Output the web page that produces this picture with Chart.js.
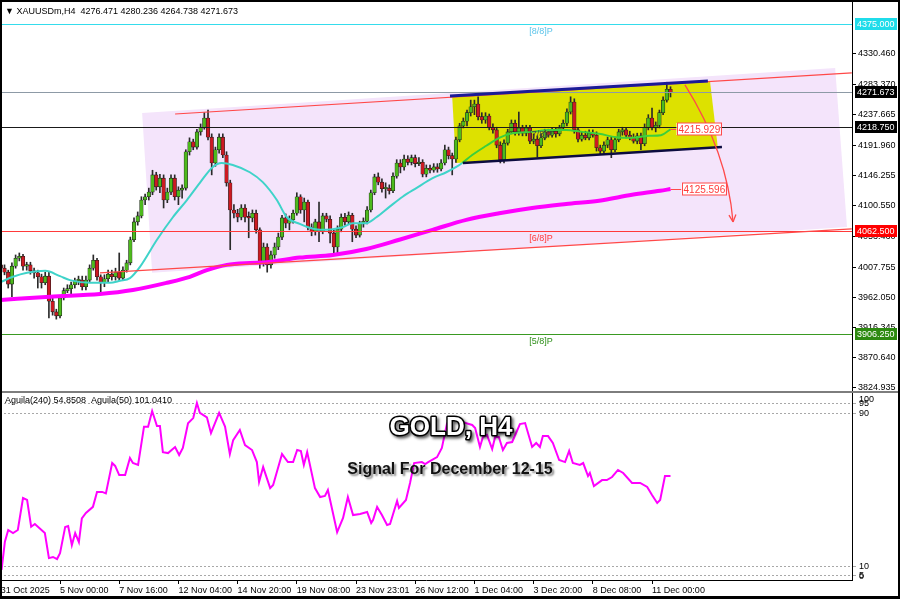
<!DOCTYPE html>
<html>
<head>
<meta charset="utf-8">
<script src="https://cdn.jsdelivr.net/npm/chart.js@4.4.1/dist/chart.umd.min.js"></script>
<style>
  html, body { margin: 0; padding: 0; background: #fff; }
  #wrap { position: relative; width: 900px; height: 599px; overflow: hidden; }
  #priceChart { position: absolute; left: 0; top: 0; }
  #aguilaChart { position: absolute; left: 0; top: 391px; }
  #frame { position: absolute; left: 0; top: 0; width: 900px; height: 599px; box-sizing: border-box;
           border: 2px solid #000; border-bottom-width: 3px; pointer-events: none; }
</style>
</head>
<body>
<div id="wrap">
  <canvas id="priceChart" width="900" height="391"></canvas>
  <canvas id="aguilaChart" width="900" height="208"></canvas>
  <div id="frame"></div>
</div>
<script>
// XAUUSDm H4 candles, bar 0 = 31 Oct 2025 08:00
const opens = [
  4011, 4006, 4000, 3982, 4009, 4021, 4024, 4009, 4011, 4002,
  3999, 3993, 3984, 3994, 3956, 3940, 3934, 3961, 3972, 3975,
  3981, 3987, 3988, 3978, 3988, 4006, 4018, 3993, 3984, 3990,
  3997, 3993, 4000, 3991, 4003, 4014, 4049, 4076, 4085, 4109,
  4114, 4121, 4147, 4129, 4142, 4109, 4121, 4142, 4114, 4124,
  4127, 4182, 4197, 4189, 4212, 4219, 4233, 4204, 4165, 4185,
  4204, 4177, 4135, 4094, 4089, 4083, 4097, 4083, 4082, 4089,
  4064, 4014, 4038, 4011, 4026, 4038, 4053, 4082, 4074, 4079,
  4089, 4114, 4094, 4106, 4068, 4061, 4076, 4062, 4085, 4080,
  4059, 4038, 4065, 4083, 4076, 4086, 4065, 4056, 4073, 4077,
  4094, 4120, 4144, 4136, 4126, 4127, 4123, 4145, 4165, 4159,
  4171, 4166, 4173, 4164, 4166, 4148, 4157, 4154, 4159, 4156,
  4165, 4185, 4176, 4171, 4200, 4221, 4228, 4241, 4250, 4254,
  4235, 4230, 4236, 4219, 4215, 4192, 4170, 4195, 4212, 4225,
  4212, 4218, 4210, 4218, 4198, 4201, 4191, 4203, 4212, 4207,
  4213, 4209, 4218, 4225, 4242, 4257, 4215, 4201, 4207, 4203,
  4210, 4207, 4188, 4183, 4192, 4200, 4185, 4200, 4212, 4215,
  4207, 4203, 4198, 4206, 4194, 4219, 4233, 4218, 4222, 4241,
  4260, 4276.471
];
const highs = [
  4015, 4011, 4003, 4014, 4026, 4029, 4027, 4015, 4015, 4006,
  4003, 3997, 4000, 4000, 3961, 3944, 3964, 3976, 3981, 3985,
  3991, 3994, 3994, 3994, 4011, 4026, 4021, 3996, 3996, 4003,
  4003, 4006, 4029, 4008, 4018, 4053, 4082, 4091, 4114, 4118,
  4127, 4154, 4151, 4148, 4147, 4127, 4147, 4147, 4129, 4132,
  4185, 4203, 4201, 4216, 4224, 4241, 4245, 4209, 4189, 4209,
  4209, 4182, 4139, 4102, 4095, 4102, 4102, 4091, 4094, 4094,
  4067, 4044, 4043, 4032, 4044, 4059, 4086, 4088, 4085, 4094,
  4120, 4117, 4112, 4109, 4073, 4080, 4106, 4089, 4089, 4085,
  4064, 4070, 4088, 4089, 4091, 4089, 4070, 4077, 4082, 4099,
  4124, 4148, 4150, 4141, 4135, 4132, 4150, 4170, 4170, 4177,
  4176, 4177, 4177, 4173, 4170, 4162, 4162, 4164, 4164, 4170,
  4192, 4189, 4180, 4204, 4225, 4233, 4245, 4260, 4260, 4265,
  4241, 4241, 4239, 4224, 4219, 4197, 4200, 4216, 4230, 4230,
  4242, 4222, 4222, 4222, 4209, 4206, 4209, 4216, 4216, 4218,
  4218, 4222, 4230, 4247, 4265, 4262, 4219, 4212, 4213, 4215,
  4215, 4212, 4192, 4197, 4204, 4204, 4204, 4216, 4219, 4219,
  4213, 4209, 4210, 4210, 4224, 4238, 4248, 4227, 4245, 4265,
  4287, 4280.236
];
const lows = [
  4000, 3996, 3976, 3963, 4006, 4017, 4003, 4003, 3997, 3991,
  3976, 3976, 3981, 3931, 3935, 3929, 3931, 3958, 3969, 3963,
  3976, 3981, 3973, 3973, 3985, 4003, 3988, 3969, 3978, 3985,
  3988, 3988, 3987, 3988, 4000, 4011, 4046, 4071, 4082, 4102,
  4109, 4117, 4124, 4120, 4097, 4105, 4117, 4109, 4102, 4112,
  4124, 4177, 4185, 4186, 4207, 4216, 4200, 4147, 4160, 4180,
  4173, 4130, 4034, 4082, 4076, 4079, 4076, 4052, 4076, 4059,
  4006, 4009, 4000, 4006, 4021, 4034, 4049, 4067, 4064, 4074,
  4086, 4089, 4076, 4064, 4055, 4056, 4046, 4058, 4076, 4044,
  4026, 4029, 4061, 4071, 4073, 4046, 4052, 4053, 4068, 4073,
  4091, 4117, 4132, 4121, 4112, 4118, 4120, 4142, 4150, 4154,
  4162, 4162, 4159, 4161, 4144, 4144, 4150, 4151, 4151, 4153,
  4162, 4171, 4147, 4166, 4197, 4218, 4221, 4236, 4238, 4230,
  4225, 4225, 4215, 4210, 4188, 4165, 4165, 4192, 4209, 4207,
  4207, 4206, 4206, 4194, 4194, 4174, 4188, 4200, 4204, 4204,
  4204, 4206, 4215, 4221, 4239, 4210, 4197, 4198, 4200, 4200,
  4204, 4183, 4179, 4180, 4188, 4173, 4182, 4197, 4207, 4203,
  4200, 4195, 4194, 4185, 4191, 4215, 4215, 4212, 4218, 4238,
  4257, 4264.738
];
const closes = [
  4006, 4000, 3982, 4009, 4021, 4024, 4009, 4011, 4002, 3999,
  3993, 3984, 3994, 3956, 3940, 3934, 3961, 3972, 3975, 3981,
  3987, 3988, 3978, 3988, 4006, 4018, 3993, 3984, 3990, 3997,
  3993, 4000, 3991, 4003, 4014, 4049, 4076, 4085, 4109, 4114,
  4121, 4147, 4129, 4142, 4109, 4121, 4142, 4114, 4124, 4127,
  4182, 4197, 4189, 4212, 4219, 4233, 4204, 4165, 4185, 4204,
  4177, 4135, 4094, 4089, 4083, 4097, 4083, 4082, 4089, 4064,
  4014, 4038, 4011, 4026, 4038, 4053, 4082, 4074, 4079, 4089,
  4114, 4094, 4106, 4068, 4061, 4076, 4062, 4085, 4080, 4059,
  4038, 4065, 4083, 4076, 4086, 4065, 4056, 4073, 4077, 4094,
  4120, 4144, 4136, 4126, 4127, 4123, 4145, 4165, 4159, 4171,
  4166, 4173, 4164, 4166, 4148, 4157, 4154, 4159, 4156, 4165,
  4185, 4176, 4171, 4200, 4221, 4228, 4241, 4250, 4254, 4235,
  4230, 4236, 4219, 4215, 4192, 4170, 4195, 4212, 4225, 4212,
  4218, 4210, 4218, 4198, 4201, 4191, 4203, 4212, 4207, 4213,
  4209, 4218, 4225, 4242, 4257, 4215, 4201, 4207, 4203, 4210,
  4207, 4188, 4183, 4192, 4200, 4185, 4200, 4212, 4215, 4207,
  4203, 4198, 4206, 4194, 4219, 4233, 4218, 4222, 4241, 4260,
  4276.471, 4271.673
];

// moving averages: [bar, price]
const maFastPoints = [
  [0, 3985], [3.3, 3993], [7.1, 3999], [12, 4002], [16, 3994], [18.7, 3988], [24.1, 3984],
  [29.5, 3984], [32.2, 3987], [34.9, 3991], [37.6, 4008], [42.2, 4049], [46.5, 4083],
  [50.3, 4109], [53.8, 4135], [57.3, 4159], [59.7, 4165], [62.7, 4162], [67.3, 4151],
  [70.8, 4136], [74.6, 4109], [77.3, 4083], [80.8, 4073], [83.5, 4067], [86.2, 4064],
  [89.7, 4065], [92.4, 4068], [95.1, 4074], [98.8, 4074], [101.5, 4083], [105.1, 4099],
  [108.6, 4114], [112.3, 4127], [116.7, 4142], [120.4, 4151], [123.1, 4159], [124.7, 4165],
  [127.4, 4177], [131.2, 4191], [134.7, 4203], [138.2, 4210], [143.6, 4212], [148.2, 4215],
  [152.8, 4215], [157.1, 4212], [161.7, 4209], [166.3, 4204], [170.6, 4203], [175.2, 4206],
  [178.4, 4207], [181, 4215.929]
];
const maSlowPoints = [
  [0, 3958], [13.3, 3963], [26.8, 3967], [35.7, 3973], [44.9, 3984], [51.1, 3993],
  [55.7, 4003], [61.1, 4011], [67.3, 4014], [71.9, 4015], [80.8, 4022], [89.7, 4026],
  [98.8, 4035], [107.7, 4049], [116.7, 4064], [125.8, 4079], [134.7, 4089], [143.6, 4097],
  [152.8, 4103], [161.7, 4108], [170.6, 4117], [178.2, 4123], [181, 4125.596]
];

// Aguila(240) oscillator: [bar, value]
const aguilaPoints = [
  [0.2, 8], [1.1, 22.8], [2.0, 28.9], [3.3, 27.3], [4.6, 28.9], [6.0, 45.6], [7.1, 44.6],
  [8.2, 30.6], [9.2, 32], [11.9, 27.3], [13.0, 14.2], [14.1, 14.8], [15.2, 13.7], [16.0, 16.8],
  [17.4, 30.5], [18.2, 31], [19.2, 21], [20.1, 27.3], [21.1, 22.6], [21.9, 35], [23.0, 37.8],
  [24.9, 41], [26.0, 48.8], [27.4, 48.8], [28.4, 48], [30.1, 63.9], [30.9, 62.4], [32.0, 57.6],
  [33.6, 57.6], [34.9, 66.5], [35.7, 63.9], [37.1, 62.9], [38.7, 82.9], [39.8, 82.9], [40.9, 91.1],
  [42.2, 83.3], [43.0, 83.3], [43.8, 69.6], [45.2, 69.1], [47.1, 72.3], [48.2, 68.1], [49.2, 71.8],
  [50.6, 84.7], [52.0, 87.4], [53.0, 95.3], [53.8, 90.1], [55.7, 87.8], [56.8, 79.6], [59.0, 90.1],
  [60.6, 83], [61.9, 68.6], [62.8, 75.9], [64.6, 81.2], [66.0, 73.3], [67.9, 70.7], [69.2, 64.4],
  [69.8, 54], [70.9, 61.8], [72.8, 50.8], [73.6, 52.4], [76.0, 68.6], [77.6, 64.4], [79.0, 64.4],
  [80.1, 70.7], [81.1, 70.2], [81.9, 62.9], [82.8, 69.6], [84.9, 50.8], [86.3, 46.1], [87.6, 46.7],
  [88.4, 49.8], [90.9, 27.8], [92.5, 35.2], [93.8, 46.1], [95.2, 36.7], [97.1, 37.3], [99.0, 38.3],
  [100.1, 32.6], [100.6, 34.1], [101.7, 40.9], [103.0, 36.7], [104.4, 31.5], [105.2, 32],
  [107.1, 44.1], [107.6, 40.4], [109.5, 44.6], [110.6, 53.5], [111.7, 63.9], [113.8, 64.4],
  [114.7, 63.4], [115.5, 64.4], [117.9, 67], [119.2, 71.8], [120.6, 84.7], [122.8, 87.5],
  [124.6, 85.4], [127.4, 83.8], [128.2, 82.2], [129.5, 72.3], [130.3, 77.5], [131.4, 78.6],
  [132.8, 71.2], [133.6, 77.5], [134.6, 77.5], [135.7, 70.7], [136.8, 74.4], [138.2, 74.9],
  [140.3, 84.3], [141.7, 84.8], [143.6, 72.3], [144.7, 74.4], [145.7, 72.3], [146.5, 78],
  [147.9, 78], [149.2, 74.4], [150.9, 65.5], [152.5, 64.4], [153.6, 70.2], [154.6, 63.9],
  [156.5, 62.9], [157.4, 63.9], [158.7, 57.1], [159.2, 58.7], [160.3, 51.9], [162.5, 55],
  [163.8, 55], [165.2, 56.6], [166.8, 60.3], [168.2, 58.7], [170.6, 53.5], [172.8, 53.5],
  [174.7, 51.4], [176.0, 47.2], [177.4, 43], [178.2, 44.6], [179.5, 57.1], [181, 57.1]
];

const timeTickBars = [0, 16, 32, 48, 64, 80, 96, 112, 128, 144, 160, 176];
const timeTickLabels = ['31 Oct 2025', '5 Nov 00:00', '7 Nov 16:00', '12 Nov 04:00', '14 Nov 20:00',
  '19 Nov 08:00', '23 Nov 23:01', '26 Nov 12:00', '1 Dec 04:00', '3 Dec 20:00', '8 Dec 08:00', '11 Dec 00:00'];
const priceTicks = [4330.460, 4283.370, 4237.665, 4191.960, 4146.255, 4100.550, 4053.460,
  4007.755, 3962.050, 3916.345, 3870.640, 3824.935];
const aguilaTicks = [100, 95, 90, 10, 5];

// horizontal levels (Murrey [n/8]P lines, bid, ...)
const levelPrices = [4375.000, 4271.673, 4218.750, 4062.500, 3906.250];
const levelNames = ['[8/8]P', '', '[7/8]P', '[6/8]P', '[5/8]P'];

// hand drawn objects, in [bar, price]
const lavenderBox = [[38.2, 4240.5], [225.5, 4308.6], [228.7, 4068.3], [40.9, 3999.0]];
const yellowBox = [[122.0, 4264.7], [191.7, 4287.4], [193.8, 4187.7], [123.0, 4165.0]];
const channelTop = [[47.1, 4239.0], [230, 4301.2]];
const channelBottom = [[26.8, 3999.0], [230, 4065.3]];
const boxTopLine = [[121.4, 4266.2], [191.1, 4288.9]];
const boxBottomLine = [[124.9, 4165.0], [194.9, 4189.2]];
const arrowPath = [[184.9, 4282.9], [196.3, 4181.6], [197.9, 4075.9]];

const levelColors = ['#35dcec', '#8d9aa6', '#1a1a1a', '#ff3a3a', '#3a9a22'];
const levelTextColors = ['#5cc4ea', '#000', '#444', '#ff3a3a', '#2f8f1a'];
const levelBoxColors = ['#1fdcea', '#000', '#000', '#ff0000', '#2d8a10'];

const FONT = "'Liberation Sans', Arial, sans-serif";
Chart.defaults.font.family = FONT;
Chart.defaults.font.size = 9;
Chart.defaults.color = '#000';

const X_MIN = -0.22, X_MAX = 230.05;

function toPx(chart, pt) {
  return [chart.scales.x.getPixelForValue(pt[0]), chart.scales.y.getPixelForValue(pt[1])];
}
function tracePath(chart, pts) {
  const c = chart.ctx;
  c.beginPath();
  pts.forEach((p, k) => {
    const [x, y] = toPx(chart, p);
    if (k) c.lineTo(x, y); else c.moveTo(x, y);
  });
}

const priceOverlay = {
  id: 'priceOverlay',
  beforeDatasetsDraw(chart) {
    const c = chart.ctx, a = chart.chartArea;
    c.save();
    c.beginPath(); c.rect(a.left, a.top, a.width, a.height); c.clip();
    tracePath(chart, lavenderBox); c.closePath();
    c.fillStyle = '#f4e4fb'; c.fill();
    tracePath(chart, yellowBox); c.closePath();
    c.fillStyle = '#dde100'; c.fill();
    c.restore();
  },
  afterDatasetsDraw(chart) {
    const c = chart.ctx, a = chart.chartArea, ys = chart.scales.y, xs = chart.scales.x;
    c.save();
    c.beginPath(); c.rect(a.left, a.top, a.width, a.height); c.clip();

    // horizontal levels
    levelPrices.forEach((p, i) => {
      const y = Math.round(ys.getPixelForValue(p)) + 0.5;
      c.strokeStyle = levelColors[i]; c.lineWidth = 1;
      c.beginPath(); c.moveTo(a.left, y); c.lineTo(a.right, y); c.stroke();
      if (levelNames[i]) {
        c.font = '9px ' + FONT; c.fillStyle = levelTextColors[i];
        c.textAlign = 'center'; c.textBaseline = 'middle';
        c.fillText(levelNames[i], xs.getPixelForValue(146), y + 7);
      }
    });

    // red channel
    c.strokeStyle = '#ff4848'; c.lineWidth = 1.2;
    tracePath(chart, channelTop); c.stroke();
    tracePath(chart, channelBottom); c.stroke();

    // consolidation box edges
    c.strokeStyle = '#1b1b96'; c.lineWidth = 3;
    tracePath(chart, boxTopLine); c.stroke();
    c.strokeStyle = '#0c0c40'; c.lineWidth = 2.5;
    tracePath(chart, boxBottomLine); c.stroke();

    // red projection arrow
    const [sx, sy] = toPx(chart, arrowPath[0]);
    const [cx, cy] = toPx(chart, arrowPath[1]);
    const [ex, ey] = toPx(chart, arrowPath[2]);
    c.strokeStyle = '#ff4a4a'; c.lineWidth = 1.3;
    c.beginPath(); c.moveTo(sx, sy); c.quadraticCurveTo(cx, cy, ex, ey); c.stroke();
    const ang = Math.atan2(ey - cy, ex - cx);
    c.beginPath();
    [-1, 1].forEach(s => {
      c.moveTo(ex, ey);
      c.lineTo(ex - 8 * Math.cos(ang + s * 0.45), ey - 8 * Math.sin(ang + s * 0.45));
    });
    c.stroke();
    c.restore();

    // MA value labels
    c.save();
    [[maFastPoints, 6], [maSlowPoints, 11]].forEach(([pts, gap]) => {
      const last = pts[pts.length - 1];
      const [x, y0] = toPx(chart, last);
      const y = Math.round(y0) + 0.5;
      c.strokeStyle = '#ff4a4a'; c.lineWidth = 1;
      c.beginPath(); c.moveTo(x, y); c.lineTo(x + gap, y); c.stroke();
      c.fillStyle = '#fff';
      c.fillRect(x + gap, y - 6.5, 44, 12);
      c.strokeRect(Math.round(x + gap) + 0.5, y - 6.5, 44, 12);
      c.font = '10px ' + FONT; c.fillStyle = '#ff3a3a';
      c.textAlign = 'left'; c.textBaseline = 'middle';
      c.fillText(last[1].toFixed(3), x + gap + 2, y + 0.5);
    });
    c.restore();
  },
  afterDraw(chart) {
    const c = chart.ctx, a = chart.chartArea, ys = chart.scales.y;
    c.save();
    levelPrices.forEach((p, i) => {
      const y = Math.round(ys.getPixelForValue(p));
      c.fillStyle = levelBoxColors[i];
      c.fillRect(a.right + 3, y - 6, 42, 12);
      c.fillStyle = '#fff'; c.font = '9px ' + FONT;
      c.textAlign = 'left'; c.textBaseline = 'middle';
      c.fillText(p.toFixed(3), a.right + 5, y + 0.5);
    });
    c.fillStyle = '#000'; c.font = '9px ' + FONT;
    c.textAlign = 'left'; c.textBaseline = 'middle';
    c.fillText('\u25BC XAUUSDm,H4  4276.471 4280.236 4264.738 4271.673', 5, 12);
    c.restore();
  }
};

const bodyData = closes.map((c, i) => ({ x: i, y: [opens[i], c] }));
const wickData = closes.map((c, i) => ({ x: i, y: [lows[i], highs[i]] }));
const bodyColors = closes.map((c, i) => c >= opens[i] ? '#4dba1c' : '#cc1a22');

new Chart(document.getElementById('priceChart'), {
  type: 'bar',
  data: {
    datasets: [
      { label: 'wicks', data: wickData, backgroundColor: '#2a2a2a', barThickness: 1,
        grouped: false, borderWidth: 0, order: 3 },
      { label: 'bodies', data: bodyData, backgroundColor: bodyColors, barThickness: 3.6,
        grouped: false, borderWidth: 0.6, borderColor: '#1e1e1e', borderSkipped: false,
        minBarLength: 1.5, order: 2 },
      { type: 'line', label: 'MA slow', data: maSlowPoints.map(p => ({ x: p[0], y: p[1] })),
        borderColor: '#ff00ff', borderWidth: 4, pointRadius: 0, cubicInterpolationMode: 'monotone', order: 1 },
      { type: 'line', label: 'MA fast', data: maFastPoints.map(p => ({ x: p[0], y: p[1] })),
        borderColor: '#3fd3c9', borderWidth: 2, pointRadius: 0, cubicInterpolationMode: 'monotone', order: 0,
        segment: { borderColor: ctx => ctx.p0.parsed.x >= 124 ? '#3ccf3c' : undefined } }
    ]
  },
  options: {
    responsive: false,
    animation: false,
    devicePixelRatio: 1,
    events: [],
    layout: { padding: 0 },
    plugins: { legend: { display: false }, tooltip: { enabled: false } },
    scales: {
      x: { type: 'linear', min: X_MIN, max: X_MAX, offset: false, display: false },
      y: {
        position: 'right', min: 3820.4, max: 4411.3,
        afterBuildTicks: s => { s.ticks = priceTicks.map(v => ({ value: v })); },
        afterFit: s => { s.width = 48; s.paddingTop = 0; s.paddingBottom = 0; },
        ticks: { autoSkip: false, padding: 2, font: { size: 9 }, color: '#000', callback: v => v.toFixed(3) },
        grid: { drawOnChartArea: false, tickLength: 4, color: '#000' },
        border: { display: true, color: '#000' }
      }
    }
  },
  plugins: [priceOverlay]
});

const aguilaOverlay = {
  id: 'aguilaOverlay',
  afterDraw(chart) {
    const c = chart.ctx, a = chart.chartArea;
    c.save();
    c.fillStyle = '#7d7d7d';
    c.fillRect(0, 0, 900, 2);
    c.fillStyle = '#000'; c.font = '9px ' + FONT;
    c.textAlign = 'left'; c.textBaseline = 'middle';
    c.fillText('Aguila(240) 54.8508  Aguila(50) 101.0410', 5, 10);
    c.fillText('100', a.right + 7, 9);
    c.fillText('0', a.right + 7, a.bottom - 3);

    c.textAlign = 'center';
    c.font = 'bold 26px ' + FONT;
    c.shadowColor = 'rgba(0,0,0,0.65)'; c.shadowOffsetX = 2; c.shadowOffsetY = 2; c.shadowBlur = 3;
    c.lineWidth = 3; c.strokeStyle = '#000'; c.lineJoin = 'round';
    c.strokeText('GOLD, H4', 451, 37);
    c.shadowColor = 'transparent';
    c.fillStyle = '#fff';
    c.fillText('GOLD, H4', 451, 37);

    c.font = 'bold 16px ' + FONT;
    c.shadowColor = 'rgba(0,0,0,0.45)'; c.shadowOffsetX = 2; c.shadowOffsetY = 2; c.shadowBlur = 2;
    c.fillStyle = '#111';
    c.fillText('Signal For December 12-15', 450, 79);
    c.restore();
  }
};

new Chart(document.getElementById('aguilaChart'), {
  type: 'line',
  data: {
    datasets: [{
      label: 'Aguila(240)', data: aguilaPoints.map(p => ({ x: p[0], y: p[1] })),
      borderColor: '#ff00ff', borderWidth: 2, pointRadius: 0, tension: 0
    }]
  },
  options: {
    responsive: false,
    animation: false,
    devicePixelRatio: 1,
    events: [],
    layout: { padding: 0 },
    plugins: { legend: { display: false }, tooltip: { enabled: false } },
    scales: {
      x: {
        type: 'linear', min: X_MIN, max: X_MAX, offset: false, position: 'bottom',
        afterBuildTicks: s => { s.ticks = timeTickBars.map(v => ({ value: v })); },
        afterFit: s => { s.height = 19; s.paddingLeft = 0; s.paddingRight = 0; },
        ticks: { autoSkip: false, maxRotation: 0, minRotation: 0, align: 'start', padding: 1,
                 font: { size: 9 }, color: '#000', callback: (v, i) => timeTickLabels[i] },
        grid: { drawOnChartArea: false, tickLength: 4, color: '#000' },
        border: { display: true, color: '#000' }
      },
      y: {
        position: 'right', min: 2.75, max: 101.57,
        afterBuildTicks: s => { s.ticks = aguilaTicks.map(v => ({ value: v })); },
        afterFit: s => { s.width = 48; s.paddingTop = 0; s.paddingBottom = 0; },
        ticks: { autoSkip: false, padding: 3, font: { size: 9 },
                 color: ctx => ctx.tick && ctx.tick.value === 100 ? 'rgba(0,0,0,0)' : '#000' },
        grid: { color: ctx => ctx.tick && ctx.tick.value === 100 ? 'rgba(0,0,0,0)' : '#a8a8a8', tickLength: 4 },
        border: { display: true, color: '#000', dash: [2, 2] }
      }
    }
  },
  plugins: [aguilaOverlay]
});
</script>
</body>
</html>
